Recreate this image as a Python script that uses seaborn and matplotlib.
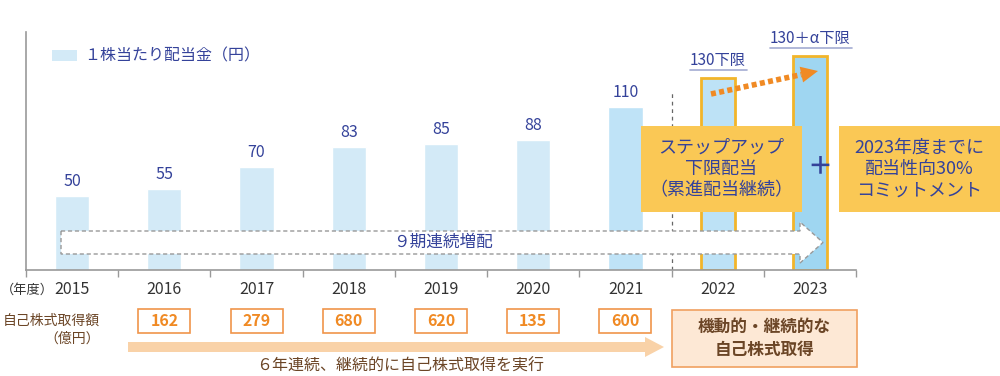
import matplotlib.pyplot as plt
import matplotlib.patches as mpatches
from matplotlib.transforms import blended_transform_factory
import seaborn as sns
import pandas as pd
import numpy as np

# データ
years = ['2015', '2016', '2017', '2018', '2019', '2020', '2021', '2022', '2023']
dividend = [50, 55, 70, 83, 85, 88, 110, 130, 145]
div_labels = ['50', '55', '70', '83', '85', '88', '110', '130下限', '130＋α下限']
buyback_years = ['2016', '2017', '2018', '2019', '2020', '2021']
buyback = [162, 279, 680, 620, 135, 600]

bar_colors = ['#d3eaf7'] * 6 + ['#bfe3f7', '#bde2f6', '#9fd6f1']

NAVY = '#34429a'
BROWN = '#6b4526'
ORANGE = '#f08a24'

df = pd.DataFrame({'年度': years, '配当': dividend})

sns.set_theme(style='white')
plt.rcParams['font.family'] = ['Noto Sans CJK JP', 'DejaVu Sans']

fig = plt.figure(figsize=(10, 3.76), dpi=100)
W, H = 1000, 376
def X(px):
    return px / W
def Y(py):
    return 1 - py / H

ax = fig.add_axes([X(26), Y(270), X(856) - X(26), Y(32) - Y(270)])

sns.barplot(data=df, x='年度', y='配当', hue='年度', palette=bar_colors,
            legend=False, width=0.37, ax=ax, saturation=1, zorder=2)

for i, p in enumerate(ax.patches):
    if years[i] in ('2022', '2023'):
        p.set_edgecolor('#f2b52a')
        p.set_linewidth(2)

ax.set_xlim(-0.5, len(years) - 0.5)
ax.set_ylim(0, 161)
ax.set_xlabel('')
ax.set_ylabel('')
ax.set_yticks([])
ax.set_xticks([i - 0.5 for i in range(len(years) + 1)])
ax.set_xticklabels([])
ax.tick_params(axis='x', direction='out', length=5, width=1, color='#999999', bottom=True)
for s in ['top', 'right']:
    ax.spines[s].set_visible(False)
for s in ['left', 'bottom']:
    ax.spines[s].set_color('#999999')
    ax.spines[s].set_linewidth(1.2)

# 値ラベル
for i, (v, lab) in enumerate(zip(dividend, div_labels)):
    if i < 7:
        ax.text(i, v + 4, lab, ha='center', va='bottom', color=NAVY, fontsize=11.5)
    else:
        ax.text(i, v + 6, lab, ha='center', va='bottom', color=NAVY, fontsize=11)

# 下線
ax.plot([X(690), X(747)], [Y(70), Y(70)], transform=fig.transFigure, color='#a3abd2',
        lw=1.2, clip_on=False)
ax.plot([X(770), X(852)], [Y(48), Y(48)], transform=fig.transFigure, color='#a3abd2',
        lw=1.2, clip_on=False)

# 年度ラベル
bt = blended_transform_factory(ax.transData, fig.transFigure)
for i, y in enumerate(years):
    ax.text(i, Y(290), y, transform=bt, ha='center', va='center', fontsize=11.5,
            color='#333333', clip_on=False)
fig.text(X(1), Y(290), '（年度）', ha='left', va='center', fontsize=9.5, color='#333333')

# 凡例
fig.patches.append(mpatches.Rectangle((X(52), Y(61)), X(25), 11 / H, transform=fig.transFigure,
                                      facecolor='#d3eaf7', edgecolor='none'))
fig.text(X(84), Y(56), '１株当たり配当金（円）', ha='left', va='center', fontsize=11.5,
         color=NAVY)

# 点線の区切り
ax.axvline(6.5, ymin=0, ymax=120 / 161, color='#666666', lw=0.9, ls=(0, (3, 3)), zorder=1)

# 9期連続増配 矢印
arrow9 = mpatches.Polygon(
    [(X(61), Y(231)), (X(800), Y(231)), (X(800), Y(222)), (X(823), Y(242.5)),
     (X(800), Y(263)), (X(800), Y(254)), (X(61), Y(254))],
    closed=True, transform=fig.transFigure, facecolor='white', edgecolor='#999999',
    lw=1, ls=(0, (3, 2)), zorder=5, clip_on=False)
ax.add_patch(arrow9)
fig.text(X(443), Y(242.5), '９期連続増配', ha='center', va='center', fontsize=12, color=NAVY,
         zorder=6)

# オレンジの点線矢印
p0 = np.array([711.0, 94.0])
p1 = np.array([818.0, 71.0])
u = (p1 - p0) / np.linalg.norm(p1 - p0)
n = np.array([-u[1], u[0]])
base = p1 - 17 * u
ax.plot([X(p0[0]), X(base[0])], [Y(p0[1]), Y(base[1])], transform=fig.transFigure,
        color=ORANGE, lw=4, ls=(0, (0.9, 0.6)), solid_capstyle='butt',
        dash_capstyle='butt', clip_on=False, zorder=6)
head = [p1, base + 8 * n, base - 8 * n]
ax.add_patch(mpatches.Polygon([(X(a), Y(b)) for a, b in head], closed=True,
                              transform=fig.transFigure, facecolor=ORANGE,
                              edgecolor='none', clip_on=False, zorder=6))

# 黄色ボックス
for x0, x1, txt in [(641, 802, 'ステップアップ\n下限配当\n（累進配当継続）'),
                    (839, 1000, '2023年度までに\n配当性向30%\nコミットメント')]:
    fig.patches.append(mpatches.Rectangle((X(x0), Y(212)), X(x1 - x0), (212 - 126) / H,
                                          transform=fig.transFigure, facecolor='#fac855',
                                          edgecolor='none', zorder=7))
    fig.text(X((x0 + x1) / 2), Y(169), txt, ha='center', va='center', fontsize=13,
             color=NAVY, linespacing=1.25, zorder=8)
fig.text(X(820), Y(166), '＋', ha='center', va='center', fontsize=18, color=NAVY,
         fontweight='bold', zorder=8)

# 自己株式取得額
fig.text(X(100), Y(321), '自己株式取得額', ha='right', va='center', fontsize=10, color=BROWN)
fig.text(X(100), Y(339), '（億円）', ha='right', va='center', fontsize=10, color=BROWN)
bw = 52 / 92.2
for y, v in zip(buyback_years, buyback):
    i = years.index(y)
    ax.add_patch(mpatches.Rectangle((i - bw / 2, Y(333)), bw, 24 / H, transform=bt,
                                    facecolor='white', edgecolor='#f0954a', lw=1.2,
                                    clip_on=False))
    ax.text(i, Y(321), str(v), transform=bt, ha='center', va='center', fontsize=11.5,
            fontweight='bold', color=ORANGE, clip_on=False)

# 薄いオレンジ矢印
arrow6 = mpatches.Polygon(
    [(X(128), Y(342)), (X(645), Y(342)), (X(645), Y(337)), (X(664), Y(347)),
     (X(645), Y(357)), (X(645), Y(352)), (X(128), Y(352))],
    closed=True, transform=fig.transFigure, facecolor='#f9d2a8', edgecolor='none')
fig.patches.append(arrow6)
fig.text(X(400), Y(366), '６年連続、継続的に自己株式取得を実行', ha='center', va='center',
         fontsize=11.5, color=BROWN)

fig.patches.append(mpatches.Rectangle((X(672), Y(367)), X(857 - 672), (367 - 310) / H,
                                      transform=fig.transFigure, facecolor='#fde8d5',
                                      edgecolor='#f0a060', lw=1.2))
fig.text(X(764.5), Y(338.5), '機動的・継続的な\n自己株式取得', ha='center', va='center',
         fontsize=12, fontweight='bold', color=BROWN, linespacing=1.35)

fig.savefig('out.png', dpi=100)
